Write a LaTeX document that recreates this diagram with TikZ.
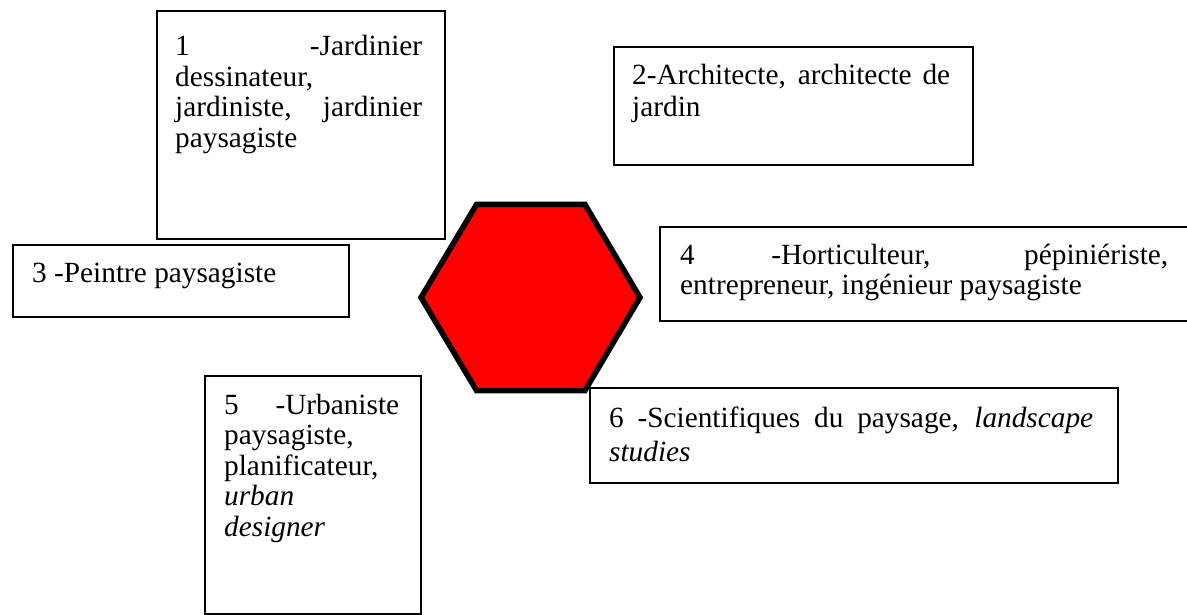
\documentclass[tikz,border=0pt]{standalone}
\usepackage{fontspec}
\setmainfont{Liberation Serif}
\begin{document}
\begin{tikzpicture}[x=1pt,y=-1pt,
  box/.style={draw=black, line width=1.6pt, fill=white, inner sep=0pt, anchor=north west},
  txt/.style={anchor=base west, inner sep=0pt, font=\fontsize{29.3}{30.5}\selectfont},
  hexa/.style={draw=black, line width=5.5pt, fill=red, line join=miter}]
\useasboundingbox (0,0) rectangle (1187,615);
% central hexagon
\path[hexa] (421,297.5) -- (476.5,204.5) -- (585,204.5) -- (640,297.5) -- (585,390.5) -- (476.5,390.5) -- cycle;
% boxes
\node[box, minimum width=288pt, minimum height=228pt] (b1) at (156,10) {};
\node[box, minimum width=359pt, minimum height=118pt] (b2) at (613,46) {};
\node[box, minimum width=336pt, minimum height=72pt] (b3) at (12,244) {};
\node[box, minimum width=540pt, minimum height=94pt] (b4) at (659,226) {};
\node[box, minimum width=216pt, minimum height=238pt] (b5) at (204,375) {};
\node[box, minimum width=528pt, minimum height=95pt] (b6) at (589,387) {};
% texts
\node[txt] (t1) at (175,56) {\parbox[t]{247pt}{\makebox[\linewidth][s]{1 -Jardinier}\\dessinateur,\\\makebox[\linewidth][s]{jardiniste, jardinier}\\paysagiste}};
\node[txt, font=\fontsize{29.3}{32}\selectfont] (t2) at (632,85) {\parbox[t]{318pt}{\makebox[\linewidth][s]{2-Architecte, architecte de}\\jardin}};
\node[txt] (t3) at (32,282) {3 -Peintre paysagiste};
\node[txt, font=\fontsize{29.3}{31}\selectfont] (t4) at (680,264) {\parbox[t]{488pt}{\makebox[\linewidth][s]{4 -Horticulteur, pépiniériste,}\\entrepreneur, ingénieur paysagiste}};
\node[txt, font=\fontsize{29.3}{30.5}\selectfont] (t5) at (224,414) {\parbox[t]{175pt}{\makebox[\linewidth][s]{5 -Urbaniste}\\paysagiste,\\planificateur,\\\textit{urban}\\\textit{designer}}};
\node[txt, font=\fontsize{29.3}{34}\selectfont] (t6) at (609,427) {\parbox[t]{484pt}{\makebox[\linewidth][s]{6 -Scientifiques du paysage, \textit{landscape}}\\\textit{studies}}};
\end{tikzpicture}
\end{document}
